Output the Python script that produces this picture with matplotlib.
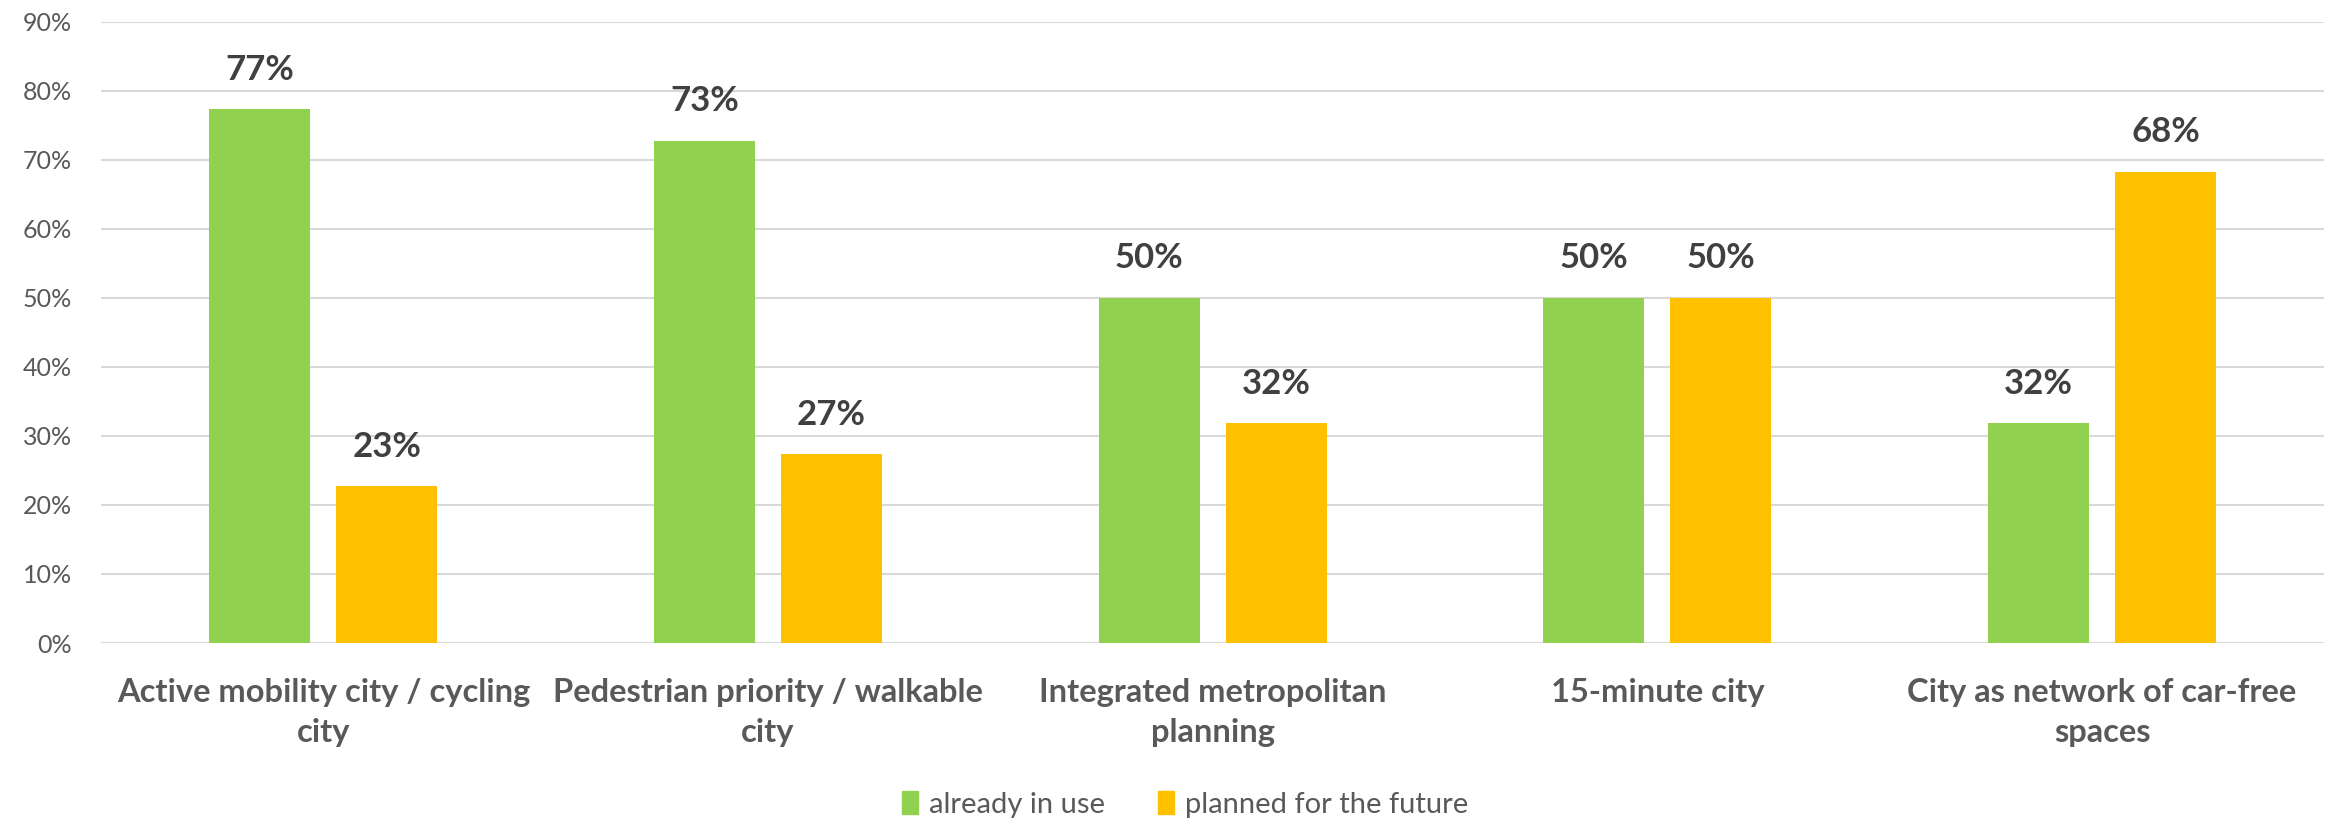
import matplotlib
matplotlib.use("Agg")
import matplotlib.pyplot as plt
import numpy as np
from matplotlib.ticker import PercentFormatter
from matplotlib.patches import Patch

plt.rcParams['font.family'] = ['Lato', 'DejaVu Sans']

# data (shares of 22 respondents)
categories = ["Active mobility city / cycling\ncity",
              "Pedestrian priority / walkable\ncity",
              "Integrated metropolitan\nplanning",
              "15-minute city",
              "City as network of car-free\nspaces"]
already_in_use = [77.3, 72.7, 50.0, 50.0, 31.8]
planned_future = [22.7, 27.3, 31.8, 50.0, 68.2]
series_names = ["already in use", "planned for the future"]
yticks = [0, 10, 20, 30, 40, 50, 60, 70, 80, 90]

green = "#92D050"
yellow = "#FFC000"
label_col = "#404040"
tick_col = "#595959"

fig = plt.figure(figsize=(23.33, 8.21), dpi=100)
ax = fig.add_axes([0.0433, 0.2168, 0.953, 0.757])

x = np.arange(len(categories))
w = 0.227
off = 0.143
b1 = ax.bar(x - off, already_in_use, w, color=green, zorder=3)
b2 = ax.bar(x + off, planned_future, w, color=yellow, zorder=3)

for bars, vals in [(b1, already_in_use), (b2, planned_future)]:
    for rect, v in zip(bars, vals):
        ax.annotate(f"{v:.0f}%", (rect.get_x() + rect.get_width() / 2, v),
                    xytext=(0, 17), textcoords="offset points",
                    ha="center", va="bottom", fontsize=25, fontweight="bold",
                    color=label_col)

ax.set_xlim(-0.5, len(categories) - 0.5)
ax.set_ylim(0, 90)
ax.set_yticks(yticks)
ax.yaxis.set_major_formatter(PercentFormatter(decimals=0))
ax.set_xticks(x)
ax.set_xticklabels(categories, fontsize=23.5, fontweight="bold", color=tick_col,
                   linespacing=1.45)
ax.tick_params(axis="x", length=0, pad=25)
ax.tick_params(axis="y", length=0, pad=21, labelsize=18, labelcolor=tick_col)
ax.grid(axis="y", color="#D9D9D9", linewidth=1.5, zorder=0)
for s in ax.spines.values():
    s.set_visible(False)

handles = [Patch(color=green), Patch(color=yellow)]
fig.legend(handles, series_names, loc="center", bbox_to_anchor=(0.508, 0.02),
           ncol=2, frameon=False, fontsize=21, labelcolor=tick_col,
           handlelength=0.55, handleheight=0.85, handletextpad=0.4, columnspacing=1.8)

fig.savefig("out.png", dpi=100)
